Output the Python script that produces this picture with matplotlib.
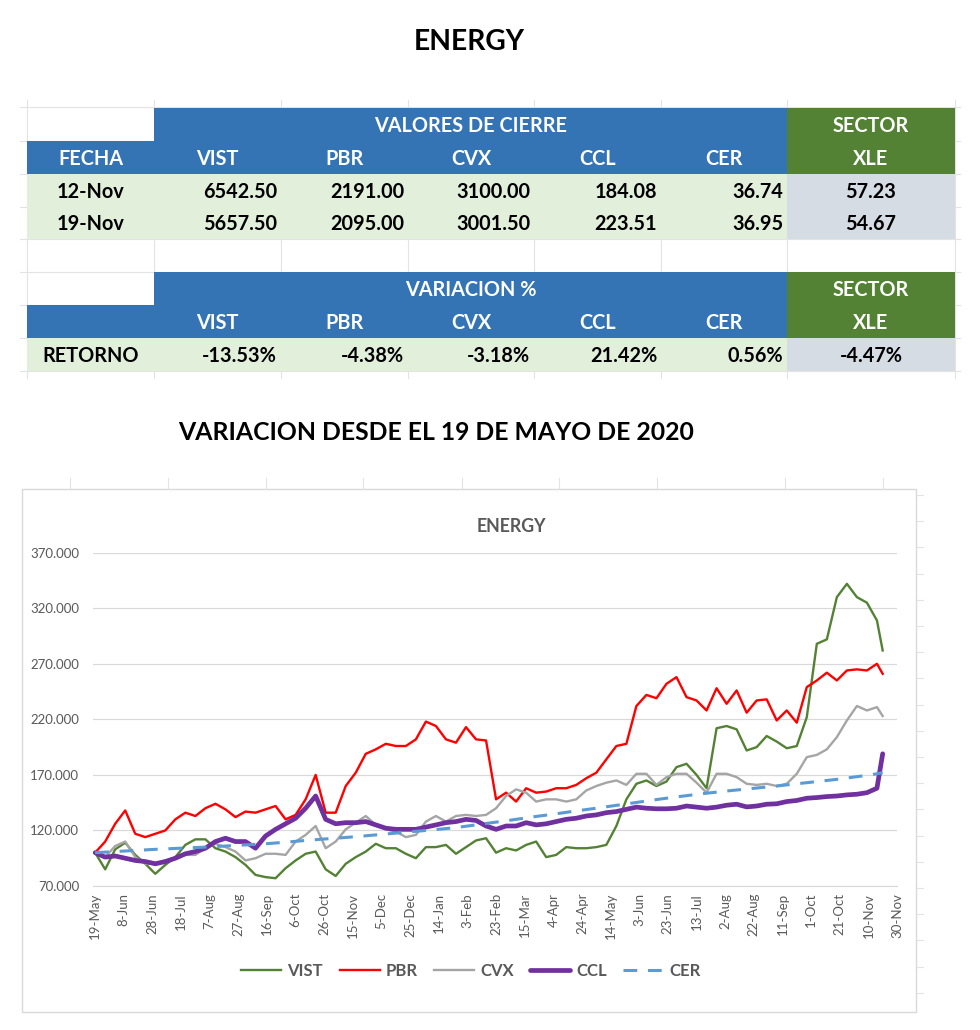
import matplotlib
matplotlib.use('Agg')
import matplotlib.pyplot as plt
from matplotlib.patches import Rectangle
from matplotlib.lines import Line2D
from matplotlib.ticker import FuncFormatter
import pandas as pd

W, H = 980, 1030
plt.rcParams['font.family'] = ['Lato', 'DejaVu Sans']

# ---------------- table data ----------------
tickers = ['VIST', 'PBR', 'CVX', 'CCL', 'CER']
close_dates = ['12-Nov', '19-Nov']
close_12nov = [6542.50, 2191.00, 3100.00, 184.08, 36.74]
close_19nov = [5657.50, 2095.00, 3001.50, 223.51, 36.95]
xle_close = [57.23, 54.67]
retorno = [-13.53, -4.38, -3.18, 21.42, 0.56]
xle_retorno = -4.47

# ---------------- chart data (days since 19-May-2020) ----------------
days = [0, 7, 14, 21, 28, 35, 42, 49, 56, 63, 70, 77, 84, 91, 98, 105, 112, 119, 126, 133,
        140, 147, 154, 161, 168, 175, 182, 189, 196, 203, 210, 217, 224, 231, 238, 245, 252, 259, 266,
        273, 280, 287, 294, 301, 308, 315, 322, 329, 336, 343, 350, 357, 364, 371, 378, 385, 392, 399, 406, 413,
        420, 427, 434, 441, 448, 455, 462, 469, 476, 483, 490, 497, 504, 511, 518, 525, 532, 539, 546, 550]

vist = [100, 85, 103, 109, 98, 90, 81, 89, 96, 107, 112, 112, 104, 101, 96, 89, 80, 78, 77, 86,
        93, 99, 101, 85, 79, 90, 96, 101, 108, 104, 104, 99, 95, 105, 105, 107, 99, 105, 111,
        113, 100, 104, 102, 107, 110, 96, 98, 105, 104, 104, 105, 107, 124, 148, 162, 165, 160, 164, 177, 180,
        170, 158, 212, 214, 211, 192, 195, 205, 200, 194, 196, 222, 288, 292, 330, 342, 330, 325, 309, 282]

pbr = [100, 110, 126, 138, 117, 114, 117, 120, 130, 136, 133, 140, 144, 139, 132, 137, 136, 139, 142, 130,
       134, 148, 170, 136, 136, 160, 172, 189, 193, 198, 196, 196, 202, 218, 214, 202, 199, 213, 202,
       201, 148, 154, 146, 158, 154, 155, 158, 158, 161, 167, 172, 184, 196, 198, 232, 242, 239, 252, 258, 240,
       237, 228, 248, 234, 246, 226, 237, 238, 219, 228, 217, 249, 255, 262, 255, 264, 265, 264, 270, 261]

cvx = [100, 96, 106, 110, 96, 90, 90, 93, 95, 98, 98, 104, 108, 105, 101, 93, 95, 99, 99, 98,
       110, 116, 124, 104, 110, 121, 127, 133, 125, 121, 119, 114, 116, 128, 133, 128, 133, 134, 133,
       134, 140, 151, 157, 154, 146, 148, 148, 146, 148, 156, 160, 163, 165, 161, 171, 171, 161, 168, 171, 171,
       163, 154, 171, 171, 168, 162, 161, 162, 160, 162, 171, 186, 188, 193, 204, 219, 232, 228, 231, 223]

ccl = [100, 96, 97, 95, 93, 92, 90, 92, 95, 99, 101, 104, 110, 113, 110, 110, 104, 115, 121, 126,
       131, 140, 151, 130, 126, 127, 127, 128, 125, 122, 121, 121, 121, 123, 125, 127, 128, 130, 129,
       124, 121, 124, 124, 127, 125, 126, 128, 130, 131, 133, 134, 136, 137, 139, 141, 140, 139.5, 139.5, 140, 142,
       141, 140, 141, 142.7, 143.6, 141.2, 142, 143.6, 144, 146, 147, 149, 149.6, 150.5, 151, 152, 152.6, 154, 158, 189]

cer = [100, 100.5, 101, 101.5, 102, 102.5, 103, 103.4, 103.8, 104.2, 104.6, 105, 105.5, 106, 106.5, 107, 107.5, 108, 108.7, 109.4,
       110.2, 111, 111.7, 112.4, 113, 113.7, 114.4, 115.2, 116, 116.8, 117.6, 118.4, 119.2, 120, 120.8, 121.7, 122.6, 123.8, 125,
       126.3, 127.5, 128.7, 130, 131.3, 132.6, 133.8, 135, 136.3, 137.6, 138.8, 140, 141.3, 142.6, 143.9, 145.2, 146.5, 147.8, 149, 150.2, 151.3,
       152.5, 153.5, 154.5, 155.5, 156.4, 157.3, 158.2, 159.1, 160, 161, 162, 163, 164, 165, 166, 167.2, 168.4, 169.6, 171, 172]

# ---------------- figure ----------------
fig = plt.figure(figsize=(W / 100, H / 100), dpi=100)
fig.patch.set_facecolor('white')


def fx(x):
    return x / W


def fy(y):
    return 1 - y / H


def rect(x0, y0, x1, y1, color, z=2):
    fig.add_artist(Rectangle((fx(x0), fy(y1)), (x1 - x0) / W, (y1 - y0) / H,
                             transform=fig.transFigure, facecolor=color,
                             edgecolor='none', zorder=z))


def line(x0, y0, x1, y1, color='#E3E3E3', lw=0.8, z=1):
    fig.add_artist(Line2D([fx(x0), fx(x1)], [fy(y0), fy(y1)], transform=fig.transFigure,
                          color=color, lw=lw, zorder=z))


def txt(x, y, s, ha='center', color='black', size=14.3, weight='bold'):
    fig.text(fx(x), fy(y), s, ha=ha, va='center', color=color, fontsize=size,
             fontweight=weight, zorder=5)


BLUE = '#3474B4'
GREEN = '#548235'
LGREEN = '#E2EFDA'
LGRAY = '#D6DCE4'

cols = [27, 154, 281, 408, 534, 661, 787, 955]
centers = [(cols[i] + cols[i + 1]) / 2 for i in range(len(cols) - 1)]

# excel background gridlines
for yy in [107, 141, 174, 207, 239, 272, 305, 338, 371]:
    line(20, yy, 960, yy)
for xx in cols:
    line(xx, 100, xx, 378)

# main title
txt(469, 42, 'ENERGY', size=20.3)

# ----- table 1 -----
rect(154, 108, 787, 141, BLUE)
rect(787, 108, 955, 141, GREEN)
rect(27, 141, 787, 174, BLUE)
rect(787, 141, 955, 174, GREEN)
rect(27, 174, 787, 239, LGREEN)
rect(787, 174, 955, 239, LGRAY)

txt(470.5, 126, 'VALORES DE CIERRE', color='white')
txt(871, 126, 'SECTOR', color='white')
txt(centers[0], 159, 'FECHA', color='white')
for i, t in enumerate(tickers):
    txt(centers[i + 1], 159, t, color='white')
txt(871, 159, 'XLE', color='white')

for r, (d, vals) in enumerate(zip(close_dates, [close_12nov, close_19nov])):
    yy = 191.5 + r * 32.5
    txt(centers[0], yy, d)
    for i, v in enumerate(vals):
        txt(cols[i + 2] - 4, yy, f'{v:.2f}', ha='right')
    txt(871, yy, f'{xle_close[r]:.2f}')

# ----- table 2 -----
rect(154, 272, 787, 305, BLUE)
rect(787, 272, 955, 305, GREEN)
rect(27, 305, 787, 338, BLUE)
rect(787, 305, 955, 338, GREEN)
rect(27, 338, 787, 371, LGREEN)
rect(787, 338, 955, 371, LGRAY)

txt(470.5, 290, 'VARIACION %', color='white')
txt(871, 290, 'SECTOR', color='white')
for i, t in enumerate(tickers):
    txt(centers[i + 1], 323, t, color='white')
txt(871, 323, 'XLE', color='white')
txt(centers[0], 355.5, 'RETORNO')
for i, v in enumerate(retorno):
    txt(cols[i + 2] - 4, 355.5, f'{v:.2f}%', ha='right')
txt(871, 355.5, f'{xle_retorno:.2f}%')

# chart heading
txt(436, 433, 'VARIACION DESDE EL 19 DE MAYO DE 2020', size=17.8)

# excel gridlines around chart
for xx in [70, 168, 266, 363, 462, 559, 657, 785, 883]:
    line(xx, 478, xx, 489)
yy = 495
while yy < 1012:
    line(917, yy, 923, yy)
    yy += 26.2

# chart border
fig.add_artist(Rectangle((fx(22), fy(1012)), (916 - 22) / W, (1012 - 489) / H,
                         transform=fig.transFigure, facecolor='white',
                         edgecolor='#D9D9D9', lw=1.0, zorder=-1))

# chart title
fig.text(fx(511), fy(527), 'ENERGY', ha='center', va='center', color='#595959',
         fontsize=12.8, fontweight='bold')

# ----- chart axes -----
base = pd.Timestamp('2020-05-19')
dates = base + pd.to_timedelta(days, unit='D')

ax = fig.add_axes([fx(93), fy(886), (897 - 93) / W, (886 - 552.7) / H])
ax.set_zorder(3)
ax.set_facecolor('none')

ax.plot(dates, vist, color='#548235', lw=1.7, label='VIST')
ax.plot(dates, pbr, color='#FF0000', lw=1.7, label='PBR')
ax.plot(dates, cvx, color='#A5A5A5', lw=1.7, label='CVX')
ax.plot(dates, ccl, color='#7030A0', lw=3.4, label='CCL', solid_capstyle='round')
ax.plot(dates, cer, color='#5B9BD5', lw=2.2, dashes=(4.5, 3.5), label='CER')

ax.set_ylim(70, 370)
ax.set_yticks(range(70, 371, 50))
ax.yaxis.set_major_formatter(FuncFormatter(lambda v, p: f'{v:.3f}'))
ax.set_xlim(base - pd.Timedelta(hours=36), base + pd.Timedelta(days=560))
ticks = pd.date_range('2020-05-19', '2021-11-30', freq='20D')
ax.set_xticks(ticks)
ax.set_xticklabels([f'{t.day}-{t.strftime("%b")}' for t in ticks], rotation=90)

ax.grid(axis='y', color='#D9D9D9', lw=0.9)
ax.set_axisbelow(True)
for s in ['top', 'right', 'left']:
    ax.spines[s].set_visible(False)
ax.spines['bottom'].set_color('#D9D9D9')
ax.tick_params(axis='both', length=0, colors='#595959', labelsize=9.5)
ax.tick_params(axis='y', pad=10)
ax.tick_params(axis='x', pad=5)

handles, labels = ax.get_legend_handles_labels()
leg = fig.legend(handles, labels, loc='center', bbox_to_anchor=(fx(471), fy(971)),
                 ncol=5, frameon=False, handlelength=2.4, handletextpad=0.35,
                 columnspacing=1.0, prop={'size': 12, 'weight': 'bold'})
for t in leg.get_texts():
    t.set_color('#595959')

fig.savefig('out.png', dpi=100, facecolor='white')
